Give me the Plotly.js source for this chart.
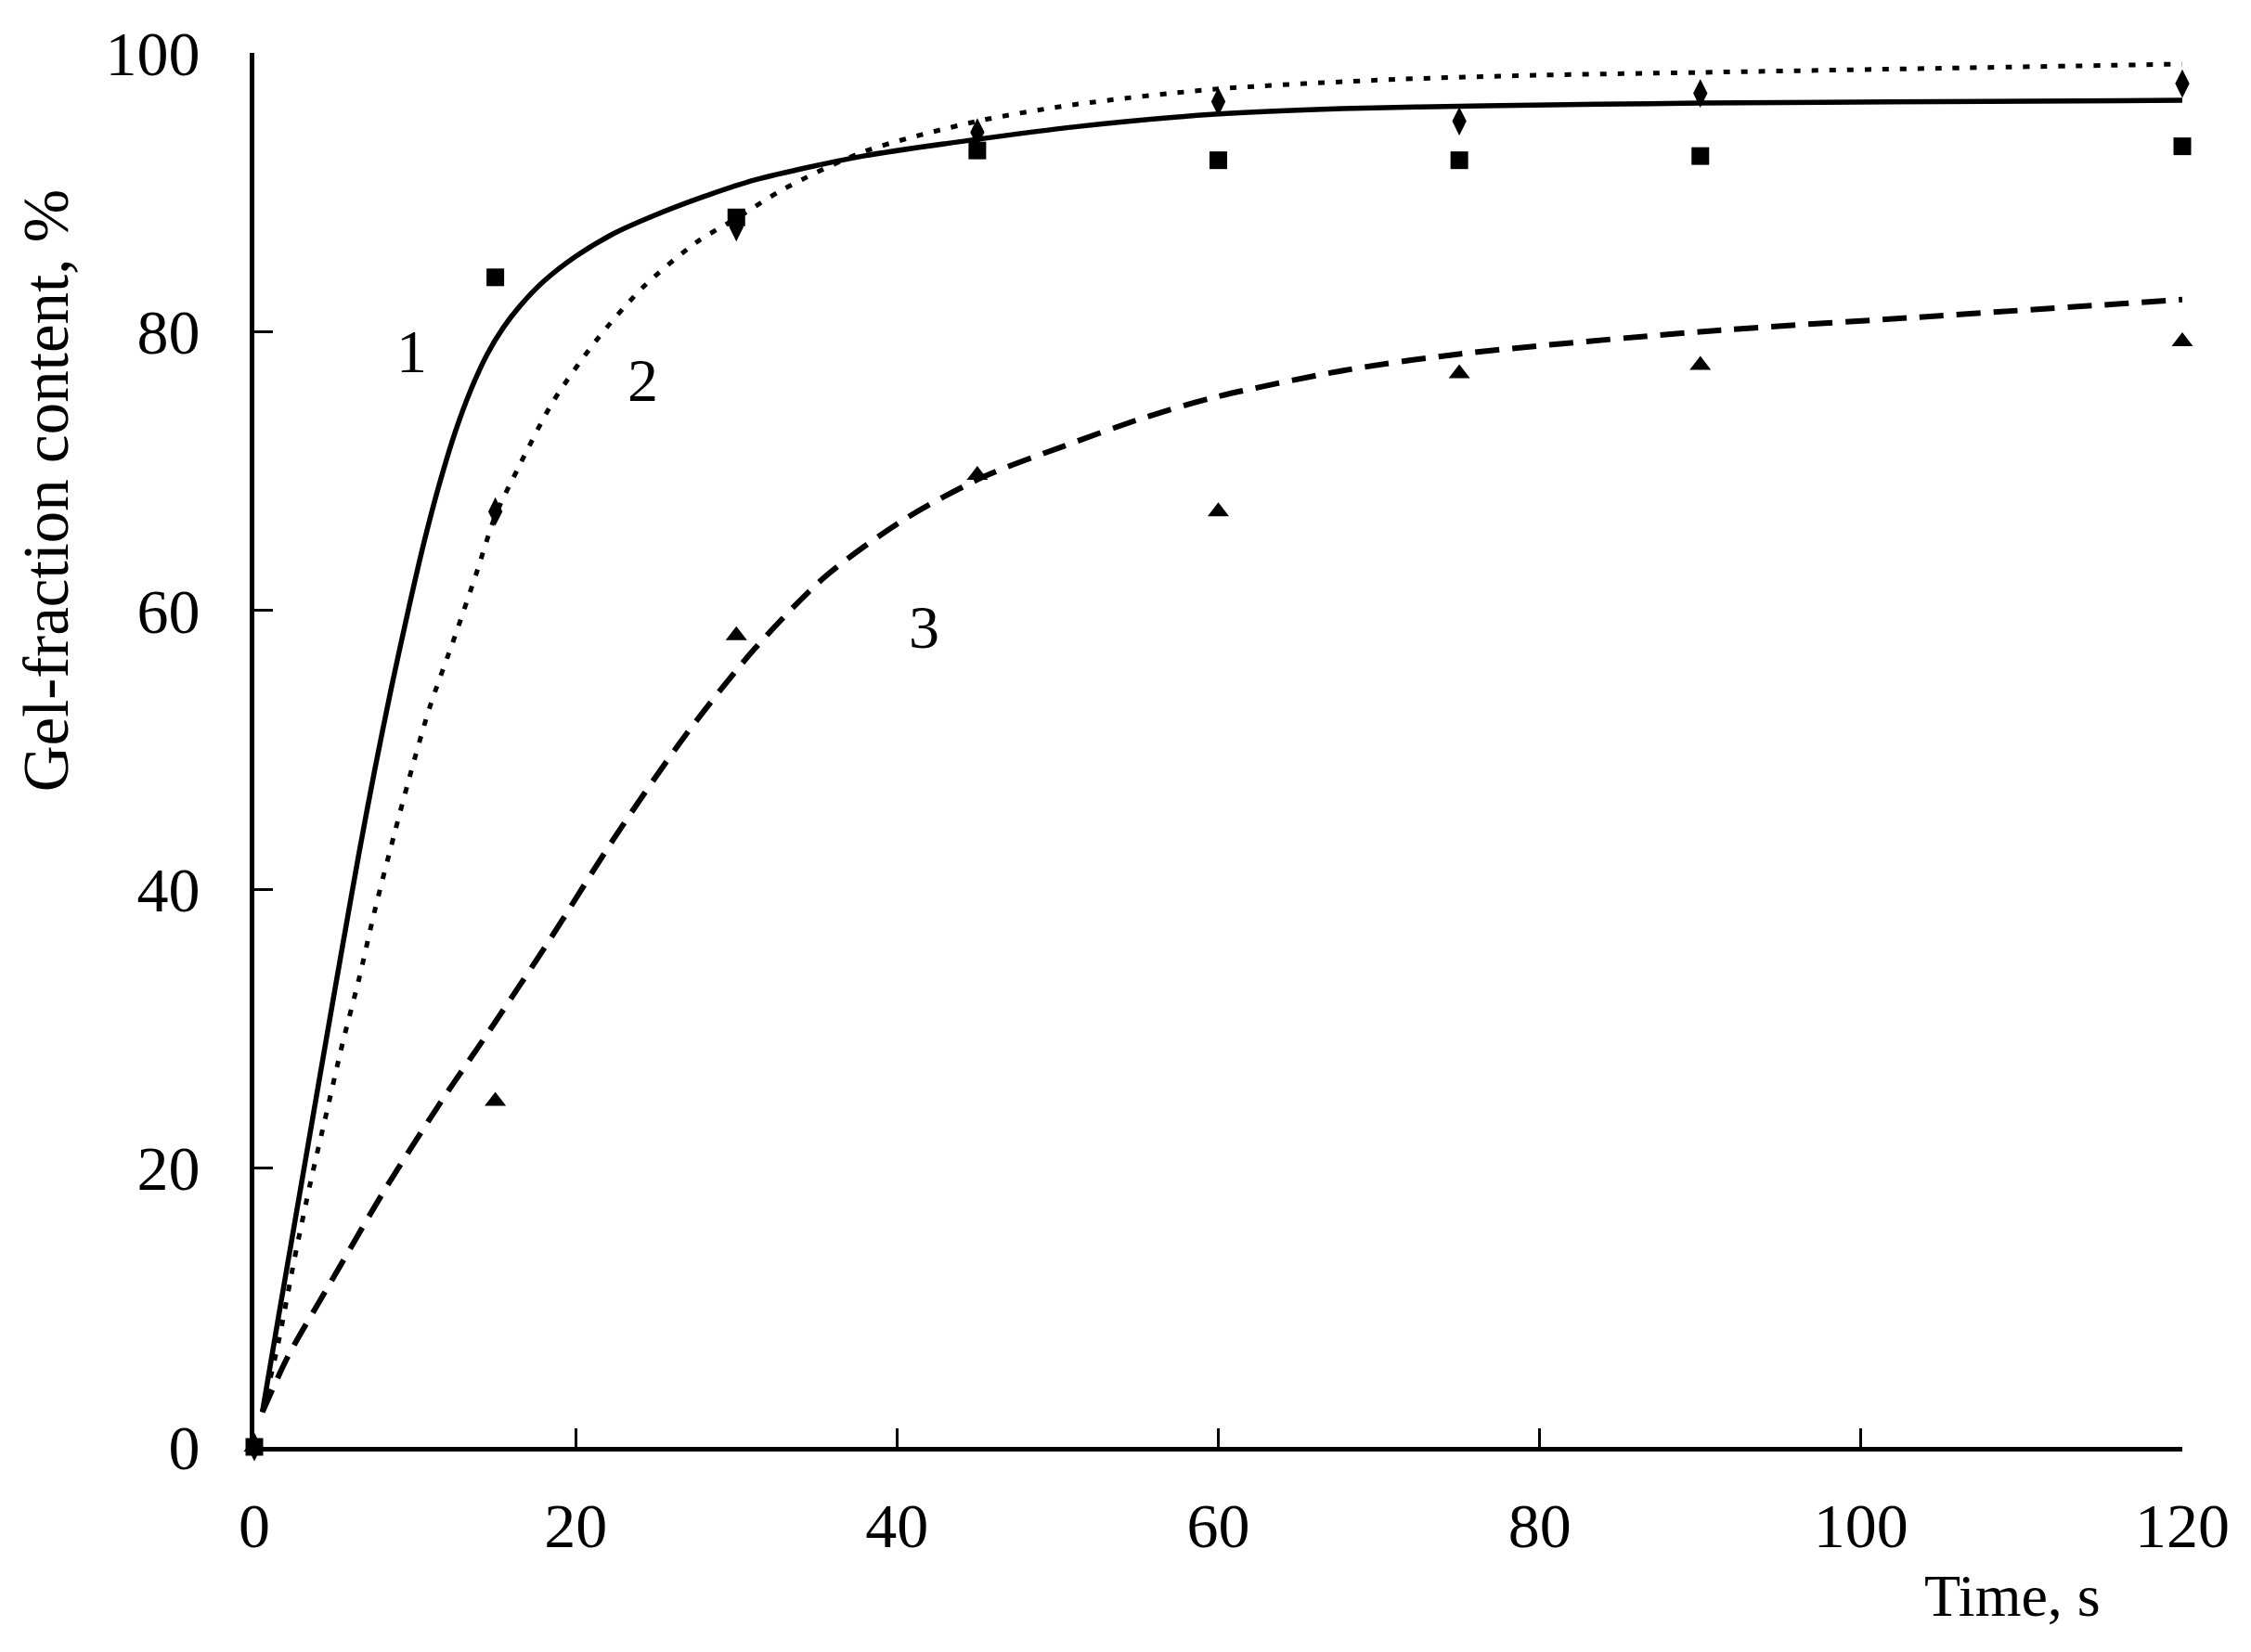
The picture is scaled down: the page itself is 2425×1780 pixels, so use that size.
<!DOCTYPE html>
<html>
<head>
<meta charset="utf-8">
<script src="https://cdn.plot.ly/plotly-3.0.1.min.js"></script>
<style>
  html, body { margin: 0; padding: 0; background: #fff; }
  #chart { width: 2425px; height: 1780px; }
</style>
</head>
<body>
<div id="chart"></div>
<script>
// measured points
const times = [0, 15, 30, 45, 60, 75, 90, 120];
const gel1 = [0, 83.9, 88.2, 93.0, 92.3, 92.3, 92.6, 93.3];
const gel2 = [0, 67.1, 87.5, 94.3, 96.5, 95.1, 97.1, 97.8];
const gel3 = [0, 24.8, 58.2, 69.7, 67.1, 77.0, 77.6, 79.3];

// fitted curves
const fit1X = [0.5, 1.5, 2.5, 3.5, 4.5, 5.5, 6.5, 7.5, 8.5, 9.5, 10.5, 11.5, 12.5, 13.5, 14.5, 15.5, 16.5, 18, 20, 22.3, 24.6, 28, 31.2, 37.9, 45, 51.1, 59.8, 67.7, 76.6, 90, 105, 120];
const fit1Y = [2.5, 9.3, 16.0, 22.7, 29.4, 36.0, 42.5, 48.6, 54.3, 59.6, 64.6, 69.0, 72.8, 75.9, 78.4, 80.3, 81.8, 83.6, 85.4, 87.0, 88.2, 89.7, 90.9, 92.6, 93.8, 94.7, 95.6, 96.0, 96.2, 96.4, 96.5, 96.6];

const fit2X = [0.5, 1.5, 2.5, 3.5, 4.5, 5.5, 6.5, 7.5, 8.7, 9.6, 10.9, 12.5, 13.8, 15.0, 16.5, 18.6, 21.3, 24.2, 27.5, 30.1, 32.9, 37.9, 45, 51.1, 59.8, 71, 80, 90, 105, 120];
const fit2Y = [2.5, 7.5, 13.5, 19.0, 24.0, 29.0, 33.5, 38.5, 43.9, 47.8, 53.0, 58.2, 62.6, 66.8, 70.4, 75.0, 79.4, 83.2, 86.4, 88.2, 90.2, 92.9, 95.1, 96.3, 97.4, 98.1, 98.4, 98.6, 98.9, 99.2];

const fit3X = [0.5, 2.1, 4.8, 8.2, 11.7, 14.6, 18.4, 22.3, 26.8, 31.1, 35.5, 40.4, 45.4, 50.4, 55.3, 59.8, 67.7, 75, 90, 103, 120];
const fit3Y = [2.5, 6.5, 11.9, 18.6, 24.9, 29.8, 36.4, 43.5, 51.0, 57.2, 62.4, 66.5, 69.6, 71.8, 73.8, 75.3, 77.2, 78.4, 80.0, 81.0, 82.3];

const curveLabels = ["1", "2", "3"];
const labelX = [9.8, 24.2, 41.7];
const labelY = [78.6, 76.5, 58.8];

const serif = "Liberation Serif, Times New Roman, serif";

const traces = [
  {
    x: fit3X, y: fit3Y, mode: "lines", type: "scatter",
    line: { color: "#000", width: 6, dash: "26px,14px", shape: "spline", smoothing: 0.8 },
  },
  {
    x: fit2X, y: fit2Y, mode: "lines", type: "scatter",
    line: { color: "#000", width: 5, dash: "7px,12px", shape: "spline", smoothing: 0.8 },
  },
  {
    x: fit1X, y: fit1Y, mode: "lines", type: "scatter",
    line: { color: "#000", width: 5.5, shape: "spline", smoothing: 0.8 },
  },
  {
    x: times, y: gel3, mode: "markers", type: "scatter", cliponaxis: false,
    marker: { symbol: "triangle-up", size: 20, color: "#000" },
  },
  {
    x: times, y: gel2, mode: "markers", type: "scatter", cliponaxis: false,
    marker: { symbol: "diamond-tall", size: 22, color: "#000" },
  },
  {
    x: times, y: gel1, mode: "markers", type: "scatter", cliponaxis: false,
    marker: { symbol: "square", size: 19, color: "#000" },
  },
];

const annotations = curveLabels.map((t, i) => ({
  x: labelX[i], y: labelY[i], xref: "x", yref: "y",
  text: t, showarrow: false,
  font: { family: serif, size: 66, color: "#000" },
}));

annotations.push({
  x: -0.108, y: 0.686, xref: "paper", yref: "paper",
  xanchor: "center", yanchor: "middle",
  text: "Gel-fraction content, %", textangle: -90, showarrow: false,
  font: { family: serif, size: 69, color: "#000" },
});
annotations.push({
  x: 0.912, y: -0.107, xref: "paper", yref: "paper",
  xanchor: "center", yanchor: "middle",
  text: "Time, s", showarrow: false,
  font: { family: serif, size: 64, color: "#000" },
});

const layout = {
  width: 2425,
  height: 1780,
  showlegend: false,
  paper_bgcolor: "#fff",
  plot_bgcolor: "#fff",
  margin: { l: 274, r: 74, t: 57, b: 221 },
  xaxis: {
    range: [0, 120],
    tickvals: [0, 20, 40, 60, 80, 100, 120],
    showgrid: false,
    zeroline: false,
    showline: true,
    linecolor: "#000",
    linewidth: 5,
    ticks: "inside",
    ticklen: 20,
    tickwidth: 3,
    tickcolor: "#000",
    ticklabelstandoff: 21,
    tickfont: { family: serif, size: 68, color: "#000" },
  },
  yaxis: {
    range: [0, 100],
    tickvals: [0, 20, 40, 60, 80, 100],
    showgrid: false,
    zeroline: false,
    showline: true,
    linecolor: "#000",
    linewidth: 5,
    ticks: "inside",
    ticklen: 20,
    tickwidth: 3,
    tickcolor: "#000",
    ticklabelstandoff: 40,
    tickfont: { family: serif, size: 68, color: "#000" },
  },
  annotations: annotations,
};

Plotly.newPlot("chart", traces, layout, { displayModeBar: false, staticPlot: true });
</script>
</body>
</html>
